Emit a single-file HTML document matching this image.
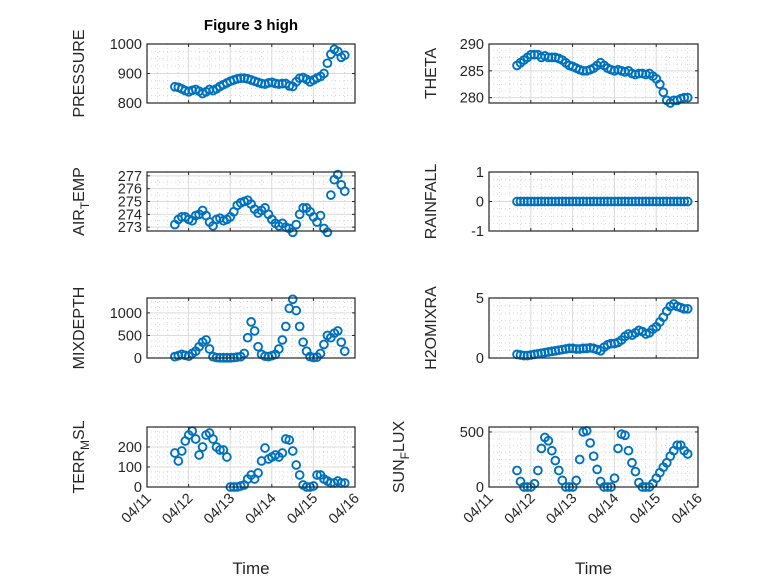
<!DOCTYPE html>
<html><head><meta charset="utf-8"><style>
body{margin:0;background:#fff}
svg{display:block;font-family:"Liberation Sans",sans-serif}
</style></head><body>
<svg id="fig" width="778" height="583" viewBox="0 0 778 583" xmlns="http://www.w3.org/2000/svg">
<rect width="778" height="583" fill="#fff"/>
<text x="251" y="30" text-anchor="middle" font-size="15" font-weight="bold" fill="#000">Figure 3 high</text>
</svg>
<script>
const times = [];
const tStart = 11.67;
for (let i = 0; i < 50; i++) times.push(tStart + i / 12);
const xTickDays = [11, 12, 13, 14, 15, 16];
const xTickLabels = ["04/11", "04/12", "04/13", "04/14", "04/15", "04/16"];

const pressureVals = [855,853,848,842,838,843,846,840,832,838,846,842,848,856,862,868,874,878,882,884,884,882,878,874,870,866,864,868,870,866,864,866,866,858,856,872,884,886,880,872,878,885,890,900,935,965,982,975,955,962];
const thetaVals = [286,286.5,287,287.5,288,288,288,287.5,287.8,287.5,287.5,287.5,287.3,287,286.5,286,285.8,285.5,285.2,285,285,285.2,285.5,286,286.5,286,285.5,285.2,285,285.2,285,284.8,285,284.5,284.3,284.5,284.5,284.3,284.5,284,283.5,282.5,281,279.5,279,279.5,279.5,279.8,280,280];
const airVals = [273.2,273.6,273.8,273.8,273.6,273.5,273.9,274.0,274.3,273.9,273.4,273.1,273.6,273.7,273.5,273.6,273.8,274.2,274.7,274.9,275.0,275.1,274.8,274.4,274.1,274.3,274.5,274.0,273.6,273.3,273.1,273.3,273.0,272.9,272.6,273.2,274.0,274.5,274.5,274.2,273.8,273.4,273.9,272.9,272.6,275.5,276.7,277.1,276.3,275.8];
const rainVals = [0,0,0,0,0,0,0,0,0,0,0,0,0,0,0,0,0,0,0,0,0,0,0,0,0,0,0,0,0,0,0,0,0,0,0,0,0,0,0,0,0,0,0,0,0,0,0,0,0,0];
const mixVals = [30,50,80,60,40,100,150,250,350,400,200,30,10,5,5,5,5,10,20,30,100,450,800,600,250,80,40,30,50,80,200,400,700,1100,1300,1050,700,350,150,30,10,20,100,300,500,450,550,600,350,150];
const h2oVals = [0.3,0.25,0.2,0.2,0.25,0.3,0.35,0.4,0.45,0.5,0.55,0.6,0.65,0.7,0.75,0.8,0.8,0.75,0.75,0.8,0.8,0.85,0.8,0.7,0.6,0.9,1.1,1.2,1.2,1.3,1.5,1.8,2.0,1.9,2.1,2.3,2.2,2.0,2.1,2.4,2.6,3.0,3.4,3.9,4.3,4.5,4.3,4.2,4.1,4.1];
const terrVals = [170,130,180,230,260,280,240,160,200,260,270,240,200,185,185,150,0,0,0,5,10,40,60,40,70,130,195,140,150,160,150,170,240,235,180,110,60,10,0,0,5,60,60,40,30,20,20,30,20,20];
const sunVals = [150,50,0,0,0,30,150,350,450,420,330,240,150,60,0,0,0,60,250,500,510,400,280,160,50,0,0,0,80,350,480,470,330,220,140,40,0,0,0,30,80,130,180,220,280,330,380,380,330,300];

const pressureTicks = [800, 900, 1000];
const thetaTicks = [280, 285, 290];
const airTicks = [273, 274, 275, 276, 277];
const rainTicks = [-1, 0, 1];
const mixTicks = [0, 500, 1000];
const h2oTicks = [0, 5];
const terrTicks = [0, 100, 200];
const sunTicks = [0, 500];

const svg = document.getElementById('fig');
const NS = 'http://www.w3.org/2000/svg';
function mk(tag, attrs, parent) {
  const e = document.createElementNS(NS, tag);
  for (const k in attrs) e.setAttribute(k, attrs[k]);
  (parent || svg).appendChild(e);
  return e;
}
const colL = [147, 355], colR = [489, 698];
const rows = [[44, 103], [172, 231], [298, 358], [427, 487]];

const panels = [
  {key:'pressure', col:colL, row:0, vals:pressureVals, ticks:pressureTicks, yl:[800,1000], minor:25, label:'PRESSURE', lx:84},
  {key:'theta', col:colR, row:0, vals:thetaVals, ticks:thetaTicks, yl:[279,290], minor:1.25, label:'THETA', lx:436},
  {key:'air-temp', col:colL, row:1, vals:airVals, ticks:airTicks, yl:[272.7,277.3], minor:0.5, label:'AIR_T_EMP', lx:84},
  {key:'rainfall', col:colR, row:1, vals:rainVals, ticks:rainTicks, yl:[-1,1], minor:0.25, label:'RAINFALL', lx:436},
  {key:'mixdepth', col:colL, row:2, vals:mixVals, ticks:mixTicks, yl:[0,1330], minor:125, label:'MIXDEPTH', lx:84},
  {key:'h2omixra', col:colR, row:2, vals:h2oVals, ticks:h2oTicks, yl:[0,5], minor:0.625, label:'H2OMIXRA', lx:436},
  {key:'terr-msl', col:colL, row:3, vals:terrVals, ticks:terrTicks, yl:[0,300], minor:25, label:'TERR_M_SL', lx:84},
  {key:'sun-flux', col:colR, row:3, vals:sunVals, ticks:sunTicks, yl:[0,545], minor:62.5, label:'SUN_F_LUX', lx:404}
];

panels.forEach(p => {
  const [x0, x1] = p.col, [y0, y1] = rows[p.row];
  const g = mk('g', {});
  
  
  const xs = d => x0 + (d - 11) / 5 * (x1 - x0);
  const ys = v => y1 - (v - p.yl[0]) / (p.yl[1] - p.yl[0]) * (y1 - y0);
  mk('rect', {x:x0, y:y0, width:x1-x0, height:y1-y0, fill:'#fff'}, g);
  for (let d = 11; d <= 16.001; d += 0.25) {
    const x = xs(d);
    mk('line', {x1:x, x2:x, y1:y0, y2:y1, stroke:'#c8c8c8', 'stroke-width':0.7, 'stroke-dasharray':'1,3'}, g);
  }
  const start = Math.ceil(p.yl[0] / p.minor) * p.minor;
  for (let v = start; v <= p.yl[1] + 1e-9; v += p.minor) {
    const y = ys(v);
    mk('line', {x1:x0, x2:x1, y1:y, y2:y, stroke:'#c8c8c8', 'stroke-width':0.7, 'stroke-dasharray':'1,3'}, g);
  }
  xTickDays.forEach(d => { const x = xs(d); mk('line', {x1:x, x2:x, y1:y0, y2:y1, stroke:'#dcdcdc', 'stroke-width':1}, g); });
  p.ticks.forEach(v => { const y = ys(v); mk('line', {x1:x0, x2:x1, y1:y, y2:y, stroke:'#dcdcdc', 'stroke-width':1}, g); });
  p.vals.forEach((v, i) => {
    const c = mk('circle', {cx:xs(times[i]).toFixed(2), cy:ys(v).toFixed(2), r:3.9, fill:'none', stroke:'#0072BD', 'stroke-width':1.9}, g);
    
    
  });
  mk('rect', {x:x0, y:y0, width:x1-x0, height:y1-y0, fill:'none', stroke:'#262626', 'stroke-width':1.2}, g);
  xTickDays.forEach(d => { const x = xs(d);
    mk('line', {x1:x, x2:x, y1:y1, y2:y1-3, stroke:'#262626'}, g);
    mk('line', {x1:x, x2:x, y1:y0, y2:y0+3, stroke:'#262626'}, g); });
  p.ticks.forEach(v => {
    const y = ys(v);
    mk('line', {x1:x0, x2:x0+3, y1:y, y2:y, stroke:'#262626'}, g);
    mk('line', {x1:x1, x2:x1-3, y1:y, y2:y, stroke:'#262626'}, g);
    const t = mk('text', {x:x0-5, y:y+5, 'text-anchor':'end', 'font-size':14.5, fill:'#262626'}, g);
    t.textContent = String(v);
    
    
  });
  const cy = (y0 + y1) / 2;
  const lab = mk('text', {x:p.lx, y:cy, transform:`rotate(-90 ${p.lx} ${cy})`, 'text-anchor':'middle', 'font-size':16, fill:'#262626'}, g);
  
  
  const parts = p.label.split('_');
  if (parts.length === 3) {
    const a = mk('tspan', {}, lab); a.textContent = parts[0];
    const b = mk('tspan', {dy:5, 'font-size':12}, lab); b.textContent = parts[1];
    const c = mk('tspan', {dy:-5}, lab); c.textContent = parts[2];
  } else lab.textContent = p.label;
  if (p.row === 3) {
    xTickDays.forEach((d, i) => {
      const x = xs(d) + 5, y = y1 + 12;
      const t = mk('text', {x:x, y:y, transform:`rotate(-45 ${x} ${y})`, 'text-anchor':'end', 'font-size':14.5, fill:'#262626'}, g);
      t.textContent = xTickLabels[i];
      
      
    });
    const xt = mk('text', {x:(x0+x1)/2, y:574, 'text-anchor':'middle', 'font-size':17, fill:'#262626'}, g);
    xt.textContent = 'Time';
    
    
  }
});
</script>
</body></html>
